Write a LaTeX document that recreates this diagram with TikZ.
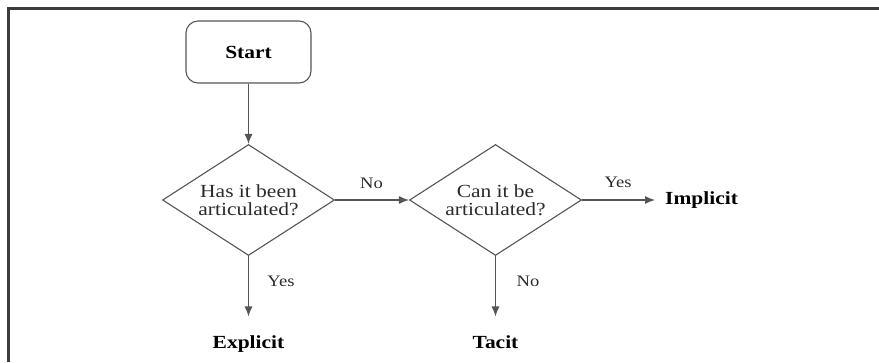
\documentclass[tikz,border=0pt]{standalone}
\usepackage{fontspec}
\setmainfont{Liberation Serif}[FakeStretch=1.16]
\usetikzlibrary{shapes.geometric,arrows.meta}
\definecolor{linegray}{HTML}{555555}
\definecolor{textgray}{HTML}{2A2A2A}
\definecolor{framegray}{HTML}{3C3C3C}
\begin{document}
\begin{tikzpicture}[x=1pt,y=-1pt,
  flow/.style={draw=linegray, line width=1.2pt, -{Latex[length=10pt,width=8pt]}},
  startbox/.style={draw=linegray, line width=1.1pt, rounded corners=12pt,
    minimum width=125pt, minimum height=62pt, inner sep=0pt,
    font=\fontsize{18.5}{20}\selectfont\bfseries},
  decision/.style={diamond, draw=linegray, line width=1.1pt, aspect=1.55,
    minimum width=172pt, minimum height=111pt, inner sep=0pt, align=center,
    text=textgray, font=\fontsize{18.5}{17.5}\selectfont},
  outcome/.style={inner sep=0pt, font=\fontsize{18.5}{20}\selectfont\bfseries},
  answer/.style={inner sep=0pt, text=textgray, font=\fontsize{16}{18}\selectfont}]
\useasboundingbox (0,0) rectangle (879,362);
% frame along the top and left edges
\draw[framegray, line width=2.5pt] (8.7,362) -- (8.7,8.7) -- (879,8.7);

% nodes
\node[startbox] (start) at (248.5,52) {Start};
\node[decision] (d1) at (248.5,200) {Has it been\\articulated?};
\node[decision] (d2) at (495.5,200) {Can it be\\articulated?};
\node[outcome, anchor=base] (explicit) at (248.5,348.5) {Explicit};
\node[outcome, anchor=base] (tacit) at (495.5,348.5) {Tacit};
\node[outcome, anchor=west] (implicit) at (665,200) {Implicit};

% connectors
\draw[flow] (start.south) -- (d1.north);
\draw[flow] (d1.east) -- (d2.west);
\draw[flow, shorten >=10pt] (d2.east) -- (implicit.west);
\draw[flow, shorten >=19pt] (d1.south) -- (explicit.north);
\draw[flow, shorten >=19pt] (d2.south) -- (tacit.north);

% answer labels
\node[answer] (no1) at (371.5,183) {No};
\node[answer] (yes1) at (618,182) {Yes};
\node[answer] (yes2) at (281,281) {Yes};
\node[answer] (no2) at (528,281) {No};
\end{tikzpicture}
\end{document}
